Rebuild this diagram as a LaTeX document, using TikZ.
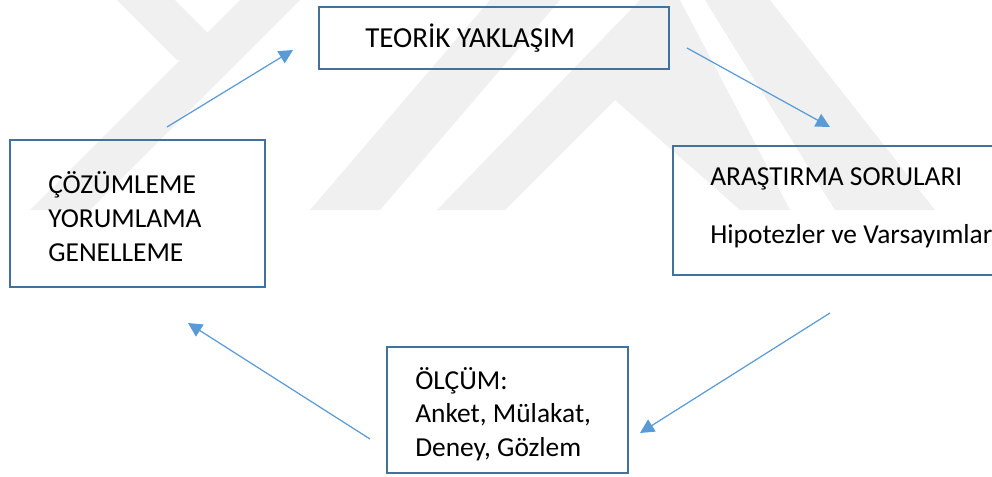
\documentclass[tikz,border=0pt]{standalone}
\usepackage{fontspec}
\setmainfont{Carlito}
\usetikzlibrary{arrows.meta,positioning}
\definecolor{kutumavi}{HTML}{41719C}
\definecolor{okmavi}{HTML}{5B9BD5}
\definecolor{filigran}{HTML}{F0F0F0}
\tikzset{
  kutu/.style={draw=kutumavi, line width=1.4pt, rectangle, inner sep=0pt, outer sep=0pt, anchor=north west},
  satir/.style={anchor=base west, inner sep=0pt, font=\fontsize{15.6}{19}\selectfont},
  ok/.style={draw=okmavi, line width=0.7pt, -{Triangle[length=8pt,width=8pt]}}
}
\newcommand\kutuciz[5]% ad, x, y, genislik, yukseklik (px)
{
\node[kutu, minimum width=#4*0.02cm, minimum height=#5*0.02cm] (#1) at (#2,#3) {};
}

\begin{document}
\begin{tikzpicture}[x=0.02cm, y=-0.02cm]
\clip (0,0) rectangle (992,477);
% filigran
\fill[filigran] (240,0)--(300,0)--(90,210)--(30,210)--cycle;
\fill[filigran] (117,0)--(175,0)--(235,60)--(177,60)--cycle;
\fill[filigran] (310,210)--(380,210)--(560,0)--(490,0)--cycle;
\fill[filigran] (437,210)--(640,0)--(680,0)--(790,210)--(740,210)--(615,100)--(505,210)--cycle;
\fill[filigran] (705,0)--(770,0)--(935,210)--(835,210)--cycle;
% kutular
\kutuciz{teorik}{319}{7}{350}{62}
\kutuciz{arastirma}{673}{146}{340}{129}
\kutuciz{olcum}{387}{347}{241}{126}
\kutuciz{cozumleme}{10}{140}{255}{147}
% yazilar
\node[satir, font=\fontsize{16.5}{19}\selectfont] (t1) at (365,47) {TEORİK YAKLAŞIM};
\node[satir] (a1) at (710,185) {ARAŞTIRMA SORULARI};
\node[satir] (a2) at (710,243) {Hipotezler ve Varsayımlar};
\node[satir] (o1) at (415,389) {ÖLÇÜM:};
\node[satir] (o2) at (415,422) {Anket, Mülakat,};
\node[satir] (o3) at (415,456) {Deney, Gözlem};
\node[satir] (c1) at (48,193) {ÇÖZÜMLEME};
\node[satir] (c2) at (48,227) {YORUMLAMA};
\node[satir] (c3) at (48,261) {GENELLEME};
% oklar
\coordinate (k1) at (167,127);
\coordinate (k2) at (293,50);
\coordinate (k3) at (687,48);
\coordinate (k4) at (830,127);
\coordinate (k5) at (830,313);
\coordinate (k6) at (640,433);
\coordinate (k7) at (370,439);
\coordinate (k8) at (188,323);
\draw[ok] (k1)--(k2);
\draw[ok] (k3)--(k4);
\draw[ok] (k5)--(k6);
\draw[ok] (k7)--(k8);
\end{tikzpicture}
\end{document}
